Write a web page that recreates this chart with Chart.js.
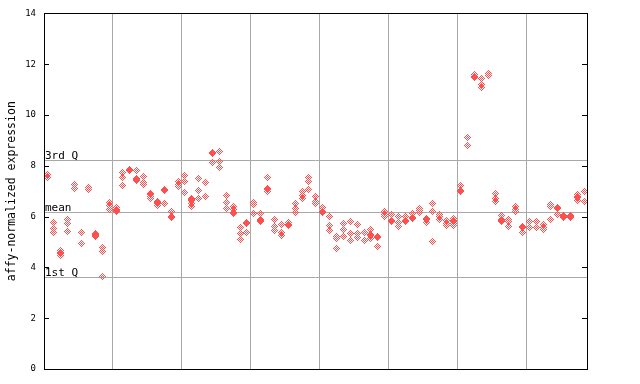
<!DOCTYPE html>
<html><head><meta charset="utf-8">
<script src="https://cdn.jsdelivr.net/npm/chart.js@4/dist/chart.umd.min.js"></script>
<style>html,body{margin:0;padding:0;background:#fff}canvas{display:block}</style>
</head><body>
<canvas id="c" width="640" height="384"></canvas>
<script>
// replicate values per sample column, split by sample group
const group1 = [[7.65,7.52],[5.75,5.55,5.38],[4.65,4.57,4.53,4.45],[5.87,5.72,5.43],[7.25,7.1],[5.38,4.95],[7.13,7.08,7.05],[5.33,5.29,5.27,5.2],[4.77,4.62,3.64],[6.56,6.42,6.29]];
const group2 = [[6.36,6.28,6.25,6.2],[7.75,7.54,7.23],[7.86,7.83,7.8],[7.81,7.5,7.47,7.44],[7.59,7.34,7.26],[6.9,6.87,6.8,6.72],[6.6,6.57,6.52,6.43],[7.06,7.02,6.52],[6.21,6.0,5.96],[7.37,7.27,7.17]];
const group3 = [[7.63,7.38,6.95],[6.71,6.66,6.62,6.53,6.4],[7.5,7.04,6.71],[7.34,6.79],[8.53,8.49,8.13],[8.56,8.17,7.93],[6.83,6.56,6.32],[6.4,6.29,6.18,6.14],[5.57,5.34,5.1],[5.77,5.73,5.38]];
const group4 = [[6.55,6.46,6.12],[6.12,5.9,5.86,5.79],[7.54,7.1,7.06,6.97],[5.89,5.62,5.46],[5.68,5.37,5.26],[5.76,5.68,5.64],[6.53,6.3,6.16],[6.97,6.83,6.71],[7.55,7.37,7.07],[6.8,6.6,6.5]];
const group5 = [[6.34,6.19,6.15],[6.0,5.65,5.45],[5.22,5.14,4.75],[5.72,5.5,5.2],[5.8,5.32,5.05],[5.69,5.34,5.18],[5.38,5.06],[5.48,5.28,5.24,5.15],[5.22,5.18,4.83],[6.19,6.09,5.99]];
const group6 = [[6.09,5.85,5.81],[6.0,5.75,5.6],[6.0,5.84,5.8],[6.12,5.97,5.93],[6.33,6.24,6.15],[5.91,5.87,5.76],[6.52,6.2,5.02],[6.1,5.99,5.89],[5.85,5.74,5.64],[5.93,5.85,5.81,5.74,5.66]];
const group7 = [[7.22,7.04,7.0],[9.11,8.8],[11.6,11.52,11.48],[11.43,11.21,11.1],[11.65,11.55],[6.91,6.71,6.6],[6.04,5.89,5.85,5.8],[5.9,5.79,5.6],[6.38,6.29,6.19],[5.62,5.58,5.38]];
const group8 = [[5.81,5.57],[5.81,5.57],[5.7,5.59,5.48],[6.47,6.41,5.89],[6.36,6.32,6.08],[6.04,6.0,5.98],[6.04,6.0,5.98],[6.87,6.78,6.74,6.64],[7.0,6.6]];

const groupBoundaries = [9.5,19.5,29.5,39.5,49.5,59.5,69.5];
const yTicks = [0,2,4,6,8,10,12,14];
const refLabels = ['3rd Q','mean','1st Q'];
const refValues = [8.22,6.2,3.61];
const yTitle = 'affy-normalized expression';

const groups = [group1,group2,group3,group4,group5,group6,group7,group8];
const points = [];
let idx = 0;
groups.forEach(g => g.forEach(col => { col.forEach(v => points.push({x: idx, y: v})); idx++; }));

// dithered diamond marker
const mk = document.createElement('canvas');
mk.width = 7; mk.height = 7;
const mctx = mk.getContext('2d');
mctx.fillStyle = '#ff5050';
for (let dy = -3; dy <= 3; dy++) for (let dx = -3; dx <= 3; dx++) {
  const s = Math.abs(dx) + Math.abs(dy);
  if (s <= 3 && s % 2 === 1) mctx.fillRect(dx + 3, dy + 3, 1, 1);
}

const MONO = 'DejaVu Sans Mono';
const decor = {
  id: 'decor',
  beforeDatasetsDraw(chart) {
    const {ctx, chartArea: a} = chart;
    const ys = chart.scales.y;
    ctx.save();
    ctx.strokeStyle = '#a8a8a8'; ctx.lineWidth = 1;
    ctx.fillStyle = '#000';
    ctx.font = '11px "' + MONO + '"';
    ctx.textAlign = 'left'; ctx.textBaseline = 'alphabetic';
    refValues.forEach((v, i) => {
      const y = Math.round(ys.getPixelForValue(v)) + 0.5;
      ctx.beginPath(); ctx.moveTo(a.left, y); ctx.lineTo(a.right, y); ctx.stroke();
      ctx.fillText(refLabels[i], a.left + 1, y - 1.5);
    });
    ctx.restore();
    ctx.imageSmoothingEnabled = false;
  },
  afterDatasetsDraw(chart) {
    const {ctx, chartArea: a} = chart;
    const ys = chart.scales.y;
    ctx.save();
    ctx.strokeStyle = '#000'; ctx.lineWidth = 1;
    ctx.beginPath();
    yTicks.forEach(v => {
      const y = Math.round(ys.getPixelForValue(v)) + 0.5;
      ctx.moveTo(a.left, y); ctx.lineTo(a.left + 5, y);
      ctx.moveTo(a.right - 5, y); ctx.lineTo(a.right, y);
    });
    ctx.stroke();
    ctx.strokeRect(Math.round(a.left) + 0.5, Math.round(a.top) + 0.5, Math.round(a.right - a.left), Math.round(a.bottom - a.top));
    ctx.restore();
  }
};

new Chart(document.getElementById('c'), {
  type: 'scatter',
  data: { datasets: [{ data: points, pointStyle: mk, pointRadius: 3.5, pointHoverRadius: 3.5, showLine: false }] },
  options: {
    responsive: false, animation: false, events: [],
    layout: { padding: { left: 0, top: 13, right: 53, bottom: 15 }, autoPadding: false },
    plugins: { legend: { display: false }, tooltip: { enabled: false } },
    scales: {
      x: {
        type: 'linear', min: -0.45, max: 78.35,
        afterBuildTicks: s => { s.ticks = groupBoundaries.map(v => ({ value: v })); },
        grid: { color: '#a8a8a8', drawTicks: false, lineWidth: 1 },
        border: { display: false },
        ticks: { display: false },
        afterFit: s => { s.height = 0; }
      },
      y: {
        min: 0, max: 14,
        afterBuildTicks: s => { s.ticks = yTicks.map(v => ({ value: v })); },
        grid: { drawOnChartArea: false, drawTicks: false },
        border: { display: false },
        ticks: { color: '#000', font: { family: MONO, size: 9 }, padding: 8 },
        title: { display: true, text: yTitle, color: '#000', font: { family: MONO, size: 11.5 }, padding: { top: 5, bottom: 0 } },
        afterFit: s => { s.width = 44; }
      }
    }
  },
  plugins: [decor]
});
</script>
</body></html>
